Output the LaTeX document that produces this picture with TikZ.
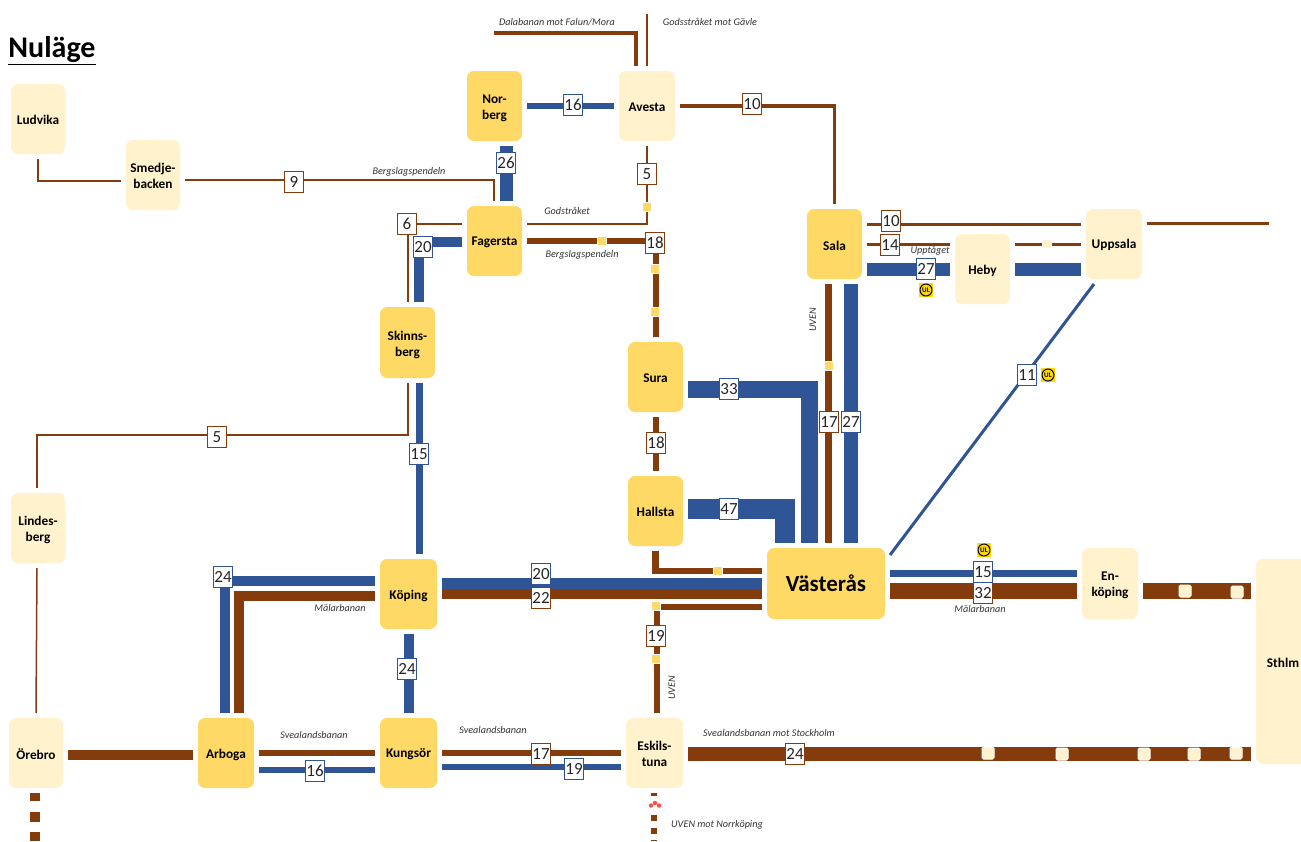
\documentclass[tikz,border=0pt]{standalone}
\usepackage{fontspec}
\setmainfont{Carlito}
\definecolor{cgold}{HTML}{FFD966}
\definecolor{clight}{HTML}{FFF2CC}
\definecolor{cbrown}{HTML}{843C0C}
\definecolor{cblue}{HTML}{2F5597}
\definecolor{cul}{HTML}{FFD800}
\definecolor{ctext}{HTML}{333333}
\newcommand{\stx}[2][1.5pt]{\raisebox{-#1}[\height][\depth]{#2}}
\tikzset{
  stn/.style={rectangle,rounded corners=7pt,inner sep=0pt,outer sep=5pt,align=center,text=black,font=\bfseries\fontsize{13.3}{16}\selectfont},
  gold/.style={stn,fill=cgold},
  light/.style={stn,fill=clight},
  brn/.style={draw=cbrown,line width=#1},
  blu/.style={draw=cblue,line width=#1},
  lab/.style={rectangle,fill=white,inner sep=0pt,minimum width=19pt,minimum height=21pt,line width=1.5pt,font=\fontsize{17}{18}\selectfont,text=black!85},
  blab/.style={lab,draw=cblue},
  rlab/.style={lab,draw=cbrown},
  yq/.style={rectangle,fill=cgold,draw=white,line width=.8pt,inner sep=0pt,minimum size=9.5pt},
  lq/.style={rectangle,rounded corners=1.5pt,fill=clight,draw=white,line width=1pt,inner sep=0pt,minimum size=12pt},
  captxt/.style={font=\itshape\fontsize{10.2}{12}\selectfont,text=ctext,inner sep=0pt},
  ulsq/.style={rectangle,fill=cul,inner sep=0pt,minimum size=14pt},
  ulci/.style={circle,draw=black,line width=1pt,inner sep=0pt,minimum size=12pt,font=\bfseries\fontsize{7}{8}\selectfont},
  rdot/.style={circle,fill=red!70,inner sep=0pt,minimum size=4.4pt}
}
\begin{document}
\begin{tikzpicture}[x=1pt,y=-1pt]
\useasboundingbox (0,0) rectangle (1301,841);
% title
\node[font=\bfseries\fontsize{30}{34}\selectfont,inner sep=0pt,text=black] (title) at (52,51) {\underline{Nuläge}};
% stations
\node[light,minimum width=54pt,minimum height=70pt] (ludvika) at (38,119) {\stx[.5pt]{Ludvika}};
\node[light,minimum width=54pt,minimum height=70pt] (smedje) at (153,175) {\stx[.7pt]{Smedje-}\\\stx[.7pt]{backen}};
\node[gold,minimum width=55pt,minimum height=70pt] (norberg) at (494.5,106) {\stx[2pt]{Nor-}\\\stx[2pt]{berg}};
\node[light,minimum width=56pt,minimum height=70pt] (avesta) at (647,106) {\stx{Avesta}};
\node[gold,minimum width=55pt,minimum height=70pt] (fagersta) at (494.5,241) {\stx{Fagersta}};
\node[gold,minimum width=55pt,minimum height=71pt] (skinnsberg) at (407.5,342.5) {\stx[2pt]{Skinns-}\\\stx[2pt]{berg}};
\node[gold,minimum width=55pt,minimum height=70pt] (sala) at (834.5,244) {\stx{Sala}};
\node[light,minimum width=55pt,minimum height=70pt] (heby) at (982.5,269) {\stx{Heby}};
\node[light,minimum width=56pt,minimum height=70pt] (uppsala) at (1114,244) {\stx[1pt]{Uppsala}};
\node[gold,minimum width=55pt,minimum height=70pt] (sura) at (655.5,377) {\stx[1pt]{Sura}};
\node[gold,minimum width=55pt,minimum height=70pt] (hallsta) at (655.5,511) {\stx[1pt]{Hallsta}};
\node[gold,minimum width=118pt,minimum height=71pt,font=\bfseries\fontsize{23}{26}\selectfont] (vasteras) at (826,583.5) {Västerås};
\node[light,minimum width=56pt,minimum height=71pt] (enkoping) at (1110,583.5) {\stx{En-}\\\stx{köping}};
\node[light,minimum width=54pt,minimum height=205pt] (sthlm) at (1283,661.5) {\stx[1pt]{Sthlm}};
\node[light,minimum width=54pt,minimum height=70pt] (lindesberg) at (38,528) {\stx[2pt]{Lindes-}\\\stx[2pt]{berg}};
\node[gold,minimum width=57pt,minimum height=70pt] (koping) at (408.5,594) {\stx{Köping}};
\node[gold,minimum width=57pt,minimum height=70pt] (kungsor) at (408.5,753) {\stx{Kungsör}};
\node[gold,minimum width=56pt,minimum height=70pt] (arboga) at (226,753) {\stx[2pt]{Arboga}};
\node[light,minimum width=54pt,minimum height=70pt] (orebro) at (36,753) {\stx[1pt]{Örebro}};
\node[light,minimum width=57pt,minimum height=70pt] (eskilstuna) at (654.5,753) {\stx[.5pt]{Eskils-}\\\stx[.5pt]{tuna}};
% free ends
\coordinate (dala) at (494,33);
\coordinate (gavle) at (647,14);
\coordinate (uppend) at (1269,223);
\coordinate (norrk) at (654,841);
\coordinate (orend) at (35,841);
% top
\draw[brn=3.5pt] (dala) -| (avesta.north -| 636,0);
\draw[brn=2pt] (gavle) -- (avesta.north);
\draw[blu=6pt] (norberg.east |- 0,106) -- (avesta.west |- 0,106);
\draw[blu=13pt] (norberg.south -| 506,0) -- (fagersta.north -| 506,0);
\draw[brn=3.5pt] (avesta.east) -| (sala.north);
\draw[brn=2pt] (avesta.south) |- (fagersta.east |- 0,224);
\draw[brn=1.5pt] (ludvika.south) |- (smedje.west |- 0,181);
\draw[brn=2pt] (smedje.east |- 0,180) -| (fagersta.north -| 494,0);
\draw[brn=2pt] (fagersta.west |- 0,224) -| (skinnsberg.north -| 408,0);
\draw[blu=10pt] (fagersta.west |- 0,242) -| (skinnsberg.north -| 419,0);
\draw[brn=6pt] (fagersta.east) -| (sura.north);
\draw[brn=6pt] (sura.south -| 656,0) -- (hallsta.north -| 656,0);
% Vasteras feeders
\draw[blu=17pt] (sura.east |- 0,389.5) -| (vasteras.north -| 809.5,0);
\draw[blu=20pt] (hallsta.east |- 0,509) -| (vasteras.north -| 784.5,0);
\draw[brn=7pt] (sala.south -| 828.5,0) -- (vasteras.north -| 828.5,0);
\draw[blu=14pt] (sala.south -| 851,0) -- (vasteras.north -| 851,0);
% Sala to Uppsala
\draw[brn=3pt] (sala.east |- 0,224) -- (uppsala.west |- 0,224);
\draw[brn=3pt] (uppsala.east |- 0,223) -- (uppend);
\draw[brn=3pt] (sala.east |- 0,244) -- (heby.west |- 0,244);
\draw[brn=3pt] (heby.east |- 0,244) -- (uppsala.west |- 0,244);
\draw[blu=13pt] (sala.east |- 0,269) -- (heby.west);
\draw[blu=13pt] (heby.east) -- (uppsala.west |- 0,269);
\draw[blu=3pt] (uppsala.south -| 1094,0) -- (vasteras.east |- 0,555);
% Vasteras east
\draw[blu=7pt] (vasteras.east |- 0,573) -- (enkoping.west |- 0,573);
\draw[brn=16pt] (vasteras.east |- 0,591) -- (enkoping.west |- 0,591);
\draw[brn=16pt] (enkoping.east |- 0,591) -- (sthlm.west |- 0,591);
\draw[brn=14pt] (eskilstuna.east |- 0,754) -- (sthlm.west |- 0,754);
% Koping to Vasteras
\draw[blu=11pt] (koping.east |- 0,583.5) -- (vasteras.west |- 0,583.5);
\draw[brn=10pt] (koping.east |- 0,594) -- (vasteras.west |- 0,594);
\draw[brn=6.5pt] (hallsta.south -| 655.5,0) |- (vasteras.west |- 0,571);
\draw[brn=6pt] (vasteras.west |- 0,607) -| (eskilstuna.north -| 656.5,0);
\draw[brn=6pt,dash pattern=on 6pt off 6.5pt,dash phase=3pt] (eskilstuna.south -| 654,0) -- (norrk);
% West side
\draw[brn=1.5pt] (skinnsberg.south -| 408,0) |- (37,435) -- (lindesberg.north -| 37,0);
\draw[blu=7pt] (skinnsberg.south -| 419,0) -- (koping.north -| 419,0);
\draw[blu=10pt] (koping.west |- 0,581) -| (arboga.north -| 225,0);
\draw[brn=10pt] (koping.west |- 0,596) -| (arboga.north -| 239,0);
\draw[blu=10pt] (koping.south -| 409,0) -- (kungsor.north -| 409,0);
\draw[brn=1.5pt] (lindesberg.south -| 37,0) -- (orebro.north);
\draw[brn=10pt,dash pattern=on 10pt off 10.5pt,dash phase=2pt] (orebro.south -| 35,0) -- (orend);
\draw[brn=10pt] (orebro.east |- 0,755) -- (arboga.west |- 0,755);
\draw[brn=6pt] (arboga.east) -- (kungsor.west);
\draw[blu=6pt] (arboga.east |- 0,770) -- (kungsor.west |- 0,770);
\draw[brn=6pt] (kungsor.east) -- (eskilstuna.west);
\draw[blu=6pt] (kungsor.east |- 0,767) -- (eskilstuna.west |- 0,767);
% small squares
\node[yq] (q1) at (647,207) {};
\node[yq] (q2) at (602,241) {};
\node[yq] (q3) at (655,269) {};
\node[yq] (q4) at (655,312) {};
\node[yq] (q5) at (829,366) {};
\node[yq] (q6) at (718,571) {};
\node[yq] (q7) at (656,606) {};
\node[yq] (q8) at (656,659) {};
\node[yq,fill=clight] (q9) at (1047,244) {};
\node[lq] (p1) at (1185,591) {};
\node[lq] (p2) at (1237,592) {};
\node[lq] (p3) at (988,753) {};
\node[lq] (p4) at (1062,754) {};
\node[lq] (p5) at (1144,754) {};
\node[lq] (p6) at (1194,754) {};
\node[lq] (p7) at (1236,753) {};
% red symbol
\node[rectangle,fill=white,minimum size=9pt,inner sep=0pt] (rbg) at (655,804) {};
\node[rdot] (r1) at (651,805.5) {};
\node[rdot] (r2) at (655,803) {};
\node[rdot] (r3) at (659,805.5) {};
% route labels
\node[blab] (n16a) at (573,105) {16};
\node[blab] (n26) at (506,163) {26};
\node[rlab] (n10a) at (752,104) {10};
\node[rlab] (n5a) at (647,174) {5};
\node[rlab] (n9) at (294,182) {9};
\node[rlab] (n6) at (407,224) {6};
\node[blab] (n20a) at (423,247) {20};
\node[rlab] (n18a) at (655,243) {18};
\node[blab] (n33) at (729,389) {33};
\node[rlab] (n18b) at (656,443) {18};
\node[blab] (n47) at (729,509) {47};
\node[rlab] (n17a) at (829,422) {17};
\node[blab] (n27a) at (851,422) {27};
\node[rlab] (n10b) at (891,221) {10};
\node[rlab] (n14) at (890,245) {14};
\node[blab] (n27b) at (926,269) {27};
\node[blab] (n11) at (1027,375) {11};
\node[rlab] (n32) at (983,593) {32};
\node[blab] (n15a) at (983,572) {15};
\node[blab] (n15b) at (419,454) {15};
\node[rlab] (n5b) at (217,437) {5};
\node[blab] (n20b) at (541,574) {20};
\node[rlab] (n22) at (541,598) {22};
\node[rlab] (n19a) at (656,636) {19};
\node[blab] (n24a) at (223,577) {24};
\node[blab] (n24b) at (407,669) {24};
\node[blab] (n16b) at (315,771) {16};
\node[rlab] (n17b) at (541,754) {17};
\node[blab] (n19b) at (574,769) {19};
\node[rlab] (n24c) at (795,754) {24};
% UL badges
\node[ulsq] (ua) at (926,290) {}; \node[ulci] (ua2) at (926,290) {UL};
\node[ulsq] (ub) at (1048,375) {}; \node[ulci] (ub2) at (1048,375) {UL};
\node[ulsq] (uc) at (984,550) {}; \node[ulci] (uc2) at (984,550) {UL};
% captions
\node[captxt] (t1) at (557,22) {Dalabanan mot Falun/Mora};
\node[captxt] (t2) at (710,22) {Godsstråket mot Gävle};
\node[captxt] (t3) at (409,172) {Bergslagspendeln};
\node[captxt] (t4) at (567,211) {Godstråket};
\node[captxt] (t5) at (582,255) {Bergslagspendeln};
\node[captxt] (t6) at (930,251) {Upptåget};
\node[captxt,rotate=90] (t7) at (813,320) {UVEN};
\node[captxt,rotate=90] (t8) at (672,688) {UVEN};
\node[captxt] (t9) at (980,609) {Mälarbanan};
\node[captxt] (t10) at (340,608) {Mälarbanan};
\node[captxt] (t11) at (314,735) {Svealandsbanan};
\node[captxt] (t12) at (493,730) {Svealandsbanan};
\node[captxt] (t13) at (769,733) {Svealandsbanan mot Stockholm};
\node[captxt] (t14) at (717,825) {UVEN mot Norrköping};
\end{tikzpicture}
\end{document}
